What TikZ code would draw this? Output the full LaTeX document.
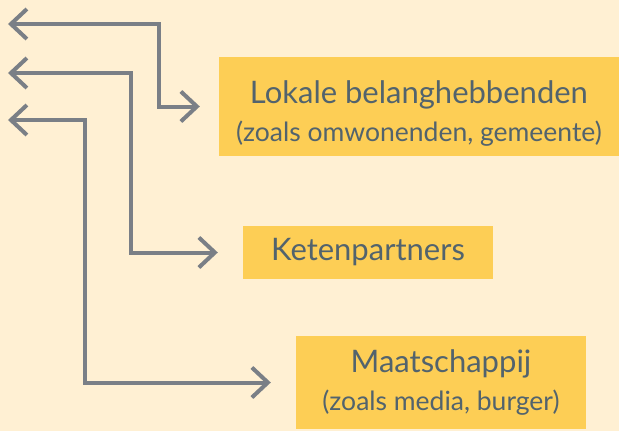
\documentclass[tikz,border=0pt]{standalone}
\usepackage{fontspec}
\setmainfont{Lato}
\usetikzlibrary{arrows.meta, positioning, calc}
\definecolor{paper}{HTML}{FFF0D3}
\definecolor{boxyellow}{HTML}{FDCE55}
\definecolor{arrowgray}{HTML}{7A7F86}
\definecolor{textslate}{HTML}{52636D}
\tikzset{
    party/.style={rectangle, fill=boxyellow, text=textslate, align=center, inner sep=0pt,
        font=\fontsize{31}{38}\selectfont},
    link/.style={draw=arrowgray, line width=4pt, {Straight Barb[length=16pt, width=30pt, line width=4pt]}-{Straight Barb[length=16pt, width=30pt, line width=4pt]}}
}
\newcommand{\sub}[1]{{\fontsize{26.5}{38}\selectfont #1}}

\begin{document}
\begin{tikzpicture}[x=1pt, y=-1pt]
    \fill[paper] (0,0) rectangle (619,431);
    \useasboundingbox (0,0) rectangle (619,431);

    \node[party, minimum width=400pt, minimum height=99pt] (lokaal) at (419,106.5)
        {\rule{0pt}{36pt}Lokale belanghebbenden\\\sub{(zoals omwonenden, gemeente)}};
    \node[party, minimum width=250pt, minimum height=53pt] (keten) at (368,252.5) {Ketenpartners};
    \node[party, minimum width=290pt, minimum height=93pt] (maatschappij) at (441,382.5)
        {Maatschappij\\\sub{(zoals media, burger)}};

    % free ends on the left
    \coordinate (vrij1) at (8,24);
    \coordinate (vrij2) at (8,73);
    \coordinate (vrij3) at (8,120);
    % bends
    \coordinate (knik1) at (159,0);
    \coordinate (knik2) at (131,0);
    \coordinate (knik3) at (85,0);

    \draw[link] (vrij1) -| (knik1 |- lokaal.west) -- ([xshift=-19pt]lokaal.west);
    \draw[link] (vrij2) -| (knik2 |- keten.west) -- ([xshift=-25pt]keten.west);
    \draw[link] (vrij3) -| (knik3 |- maatschappij.west) -- ([xshift=-25pt]maatschappij.west);
\end{tikzpicture}
\end{document}
